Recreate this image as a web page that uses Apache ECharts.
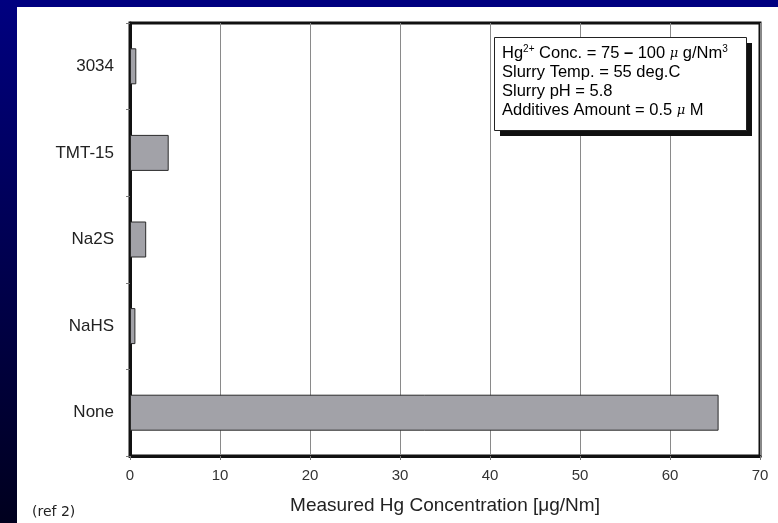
<!DOCTYPE html>
<html>
<head>
<meta charset="utf-8">
<script src="https://cdn.jsdelivr.net/npm/echarts@6/dist/echarts.min.js"></script>
<style>
  html, body { margin: 0; padding: 0; background: #ffffff; }
  #chart { width: 778px; height: 523px; }
</style>
</head>
<body>
<div id="chart"></div>
<script>
// Additive names, listed bottom to top along the category axis
const additives = ['None', 'NaHS', 'Na2S', 'TMT-15', '3034'];
// Measured Hg concentration for each additive
const hgConcentration = [65.4, 0.6, 1.8, 4.3, 0.7];
// Value-axis ticks
const xTicks = [0, 10, 20, 30, 40, 50, 60, 70];
// Test conditions shown in the inset box
const conditionLines = [
  '{t|Hg}{sup|2+}{t| Conc. = 75 }{dash|\u2013}{t| 100 }{mu|\u03bc}{t| g/Nm}{sup|3}',
  '{t|Slurry Temp. = 55 deg.C}',
  '{t|Slurry pH = 5.8}',
  '{t|Additives Amount = 0.5 }{mu|\u03bc}{t| M}'
];

const FONT = '"Liberation Sans", Arial, sans-serif';
const chart = echarts.init(document.getElementById('chart'), null, { renderer: 'canvas' });

chart.setOption({
  backgroundColor: '#ffffff',
  animation: false,
  grid: {
    left: 130, right: 18, top: 23, bottom: 67,
    show: true, borderColor: '#111111', borderWidth: 3,
    backgroundColor: 'transparent'
  },
  xAxis: {
    type: 'value',
    min: xTicks[0],
    max: xTicks[xTicks.length - 1],
    interval: 10,
    name: 'Measured Hg Concentration [\u03bcg/Nm]',
    nameLocation: 'middle',
    nameGap: 40,
    nameTextStyle: { fontFamily: FONT, fontSize: 19, color: '#222' },
    axisLine: { show: true, lineStyle: { color: '#111', width: 3 } },
    axisTick: { show: true, length: 4, lineStyle: { color: '#777', width: 1 } },
    axisLabel: { fontFamily: FONT, fontSize: 15, color: '#333', margin: 12 },
    splitLine: { show: true, lineStyle: { color: '#8a8a8a', width: 1 } }
  },
  yAxis: {
    type: 'category',
    data: additives,
    axisLine: { show: true, lineStyle: { color: '#111', width: 3 } },
    axisTick: { show: true, length: 4, lineStyle: { color: '#777', width: 1 } },
    axisLabel: { fontFamily: FONT, fontSize: 17, color: '#222', margin: 16 },
    splitLine: { show: false }
  },
  series: [{
    type: 'bar',
    data: hgConcentration,
    barWidth: 36,
    itemStyle: { color: '#a2a2a8', borderColor: '#2a2a2a', borderWidth: 1 },
    z: 3
  }],
  graphic: [
    // slide frame: navy top strip and shaded left strip
    { type: 'rect', left: 0, top: 0, shape: { width: 778, height: 7 }, style: { fill: '#000080' }, z: 10 },
    {
      type: 'rect', left: 0, top: 0, shape: { width: 17, height: 523 },
      style: {
        fill: new echarts.graphic.LinearGradient(0, 0, 0, 1, [
          { offset: 0, color: '#000080' },
          { offset: 1, color: '#00001e' }
        ])
      },
      z: 10
    },
    // conditions inset: drop shadow, box, text
    { type: 'rect', left: 500, top: 43, shape: { width: 252, height: 93 }, style: { fill: '#111111' }, z: 20 },
    { type: 'rect', left: 494, top: 37, shape: { width: 252, height: 93 }, style: { fill: '#ffffff', stroke: '#222', lineWidth: 1 }, z: 21 },
    {
      type: 'text', left: 502, top: 44, z: 22,
      style: {
        text: conditionLines.join('\n'),
        fontFamily: FONT,
        lineHeight: 19,
        rich: {
          t: { fontFamily: FONT, fontSize: 16.5, color: '#111', lineHeight: 19 },
          dash: { fontFamily: FONT, fontSize: 16.5, fontWeight: 'bold', color: '#111', lineHeight: 19 },
          sup: { fontFamily: FONT, fontSize: 10, color: '#111', verticalAlign: 'top', lineHeight: 19 },
          mu: { fontFamily: '"DejaVu Serif", serif', fontStyle: 'italic', fontSize: 13, color: '#555', lineHeight: 19 }
        }
      }
    },
    // source note
    {
      type: 'text', left: 32, top: 505, z: 22,
      style: { text: '(ref 2)', fontFamily: '"DejaVu Sans", Verdana, sans-serif', fontSize: 14, fill: '#222' }
    }
  ]
});
</script>
</body>
</html>
